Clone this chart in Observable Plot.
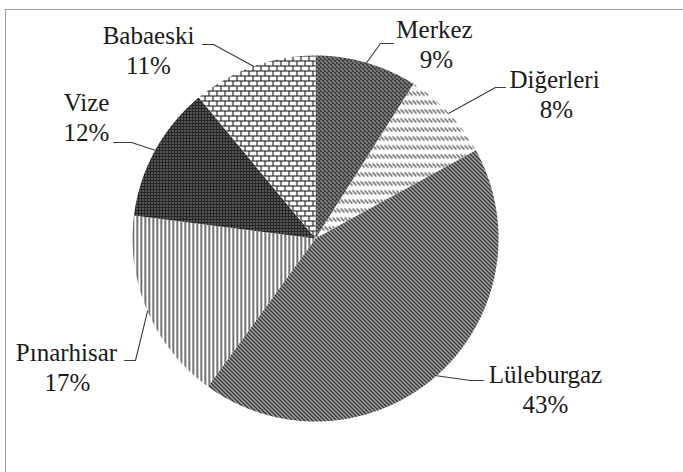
<!DOCTYPE html>
<html><head><meta charset="utf-8">
<script src="https://cdn.jsdelivr.net/npm/d3@7"></script>
<script src="https://cdn.jsdelivr.net/npm/@observablehq/plot@0.6"></script>
<style>
html,body{margin:0;padding:0;overflow:hidden;background:#fff;}
#wrap{position:relative;width:683px;height:472px;overflow:hidden;}
#frame{position:absolute;left:5px;top:9px;width:720px;height:520px;border:1.5px solid #9a9a9a;box-sizing:border-box;pointer-events:none;}
svg text{font-family:"Liberation Serif","Times New Roman",Times,Tinos,"DejaVu Serif","Noto Serif",serif !important;}
</style></head><body>
<div id="wrap"><div id="chart"></div><div id="frame"></div></div>
<script>
// ---- data ----
const categories = ["Merkez", "Diğerleri", "Lüleburgaz", "Pınarhisar", "Vize", "Babaeski"];
const shares = [9, 8, 43, 17, 12, 11];
const percentLabels = ["9%", "8%", "43%", "17%", "12%", "11%"];
const patternIds = ["pMerkez", "pDiger", "pLule", "pPinar", "pVize", "pBaba"];

// ---- layout (pixels) ----
const W = 683, H = 472;
const CX = 315, CY = 238, R = 183;
const FS = 25;
const FONT = "'Liberation Serif', 'Times New Roman', Times, Tinos, 'DejaVu Serif', 'Noto Serif', serif";
// name centre x, name baseline y, percent centre x, elbow x/y, end x (horizontal tick)
const labelLayout = [
  {nx: 434, ny: 37,  px: 436, ex: 380, ey: 43,  hx: 393},
  {nx: 554, ny: 87,  px: 556, ex: 495, ey: 87,  hx: 505},
  {nx: 545, ny: 382, px: 545, ex: 470, ey: 380, hx: 483},
  {nx: 66,  ny: 360, px: 67,  ex: 135, ey: 360, hx: 124},
  {nx: 86,  ny: 110, px: 86,  ex: 131, ey: 142, hx: 113},
  {nx: 148, ny: 43,  px: 148, ex: 213, ey: 44,  hx: 202}
];

const arcs = d3.pie().sort(null).startAngle(0).endAngle(2 * Math.PI)(shares);

// slice outlines
const slicePts = [];
arcs.forEach((a, i) => {
  const n = Math.max(2, Math.ceil((a.endAngle - a.startAngle) / (Math.PI / 360)));
  slicePts.push({s: i, x: CX, y: CY, pat: `url(#${patternIds[i]})`});
  for (let k = 0; k <= n; k++) {
    const t = a.startAngle + (a.endAngle - a.startAngle) * k / n;
    slicePts.push({s: i, x: CX + R * Math.sin(t), y: CY - R * Math.cos(t), pat: `url(#${patternIds[i]})`});
  }
  slicePts.push({s: i, x: CX, y: CY, pat: `url(#${patternIds[i]})`});
});

// leader lines
const leaderPts = [];
arcs.forEach((a, i) => {
  const m = (a.startAngle + a.endAngle) / 2;
  const L = labelLayout[i];
  leaderPts.push({s: i, x: CX + R * Math.sin(m), y: CY - R * Math.cos(m)});
  leaderPts.push({s: i, x: L.ex, y: L.ey});
  leaderPts.push({s: i, x: L.hx, y: L.ey});
});

const nameRows = categories.map((c, i) => ({t: c, x: labelLayout[i].nx, y: labelLayout[i].ny - 0.32 * FS}));
const pctRows = percentLabels.map((c, i) => ({t: c, x: labelLayout[i].px, y: labelLayout[i].ny + 30 - 0.32 * FS}));

const plot = Plot.plot({
  width: W, height: H,
  margin: 0,
  style: {fontFamily: FONT, background: "transparent"},
  x: {domain: [0, W], range: [0, W], axis: null},
  y: {domain: [0, H], range: [0, H], axis: null},
  color: {type: "identity"},
  marks: [
    Plot.line(slicePts, {x: "x", y: "y", z: "s", fill: "pat", stroke: "none", curve: "linear"}),
    Plot.line(leaderPts, {x: "x", y: "y", z: "s", stroke: "#3c3c3c", strokeWidth: 1.1}),
    Plot.text(nameRows, {x: "x", y: "y", text: "t", fontFamily: FONT, fontSize: FS, fill: "#1a1a1a", textAnchor: "middle"}),
    Plot.text(pctRows, {x: "x", y: "y", text: "t", fontFamily: FONT, fontSize: FS, fill: "#1a1a1a", textAnchor: "middle"})
  ]
});

// ---- patterns ----
const svg = d3.select(plot);
const defs = svg.insert("defs", ":first-child");
function pat(id, w, h) {
  return defs.append("pattern").attr("id", id).attr("patternUnits", "userSpaceOnUse")
    .attr("width", w).attr("height", h);
}
// Merkez: dark dotted diamond
let p = pat("pMerkez", 4, 4);
p.append("rect").attr("width", 4).attr("height", 4).attr("fill", "#404040");
p.append("rect").attr("x", 0).attr("y", 0).attr("width", 1).attr("height", 1).attr("fill", "#fff");
p.append("rect").attr("x", 2).attr("y", 2).attr("width", 1).attr("height", 1).attr("fill", "#fff");
p.append("rect").attr("x", 1).attr("y", 1).attr("width", 1).attr("height", 1).attr("fill", "#9a9a9a");
// Diğerleri: dashed downward diagonal
p = pat("pDiger", 4, 9);
p.append("rect").attr("width", 4).attr("height", 9).attr("fill", "#fff");
p.append("path").attr("d", "M0,1 L4,5").attr("stroke", "#333").attr("stroke-width", 1.1);
// Lüleburgaz: dense downward diagonal
p = pat("pLule", 4, 4);
p.append("rect").attr("width", 4).attr("height", 4).attr("fill", "#fff");
p.append("path").attr("d", "M-1,-1 L5,5 M-1,3 L1,5 M3,-1 L5,1").attr("stroke", "#1a1a1a").attr("stroke-width", 1.8);
// Pınarhisar: vertical lines
p = pat("pPinar", 4, 4);
p.append("rect").attr("width", 4).attr("height", 4).attr("fill", "#fff");
p.append("rect").attr("x", 0).attr("width", 1.5).attr("height", 4).attr("fill", "#444");
// Vize: dark grid with light dots
p = pat("pVize", 3, 3);
p.append("rect").attr("width", 3).attr("height", 3).attr("fill", "#262626");
p.append("rect").attr("x", 1).attr("y", 1).attr("width", 1).attr("height", 1).attr("fill", "#e0e0e0");
// Babaeski: bricks
p = pat("pBaba", 16, 10);
p.append("rect").attr("width", 16).attr("height", 10).attr("fill", "#fff");
p.append("path").attr("d", "M0,0.5 H16 M0,5.5 H16 M0.5,0 V5 M8.5,0 V5 M4.5,5 V10 M12.5,5 V10")
  .attr("stroke", "#111").attr("stroke-width", 1.1).attr("fill", "none");

document.getElementById("chart").appendChild(plot);
</script>
</body></html>
